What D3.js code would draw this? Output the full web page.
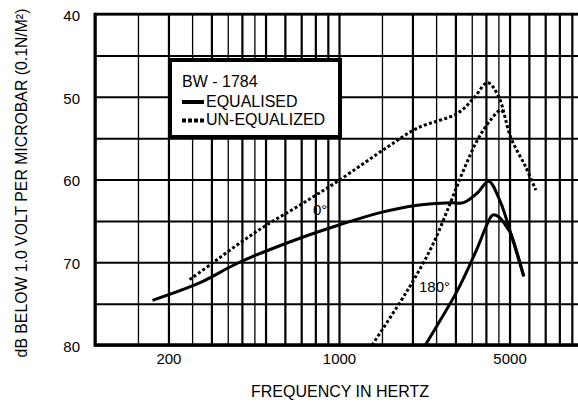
<!DOCTYPE html>
<html>
<head>
<meta charset="utf-8">
<script src="https://cdn.jsdelivr.net/npm/d3@7"></script>
<style>
  body { margin: 0; background: #fff; }
  svg text { font-family: "Liberation Sans", Arial, Helvetica, sans-serif; fill: #000; }
</style>
</head>
<body>
<div id="chart"></div>
<script>
// values
const freqLabels = [200, 1000, 5000];
const dbLabels = [40, 50, 60, 70, 80];
const freqGrid = [100, 150, 200, 250, 300, 350, 400, 450, 500, 600, 700, 800, 900,
    1000, 1500, 2000, 2500, 3000, 3500, 4000, 4500, 5000, 6000, 7000, 8000, 9000, 10000];
const dbGrid = [40, 45, 50, 55, 60, 65, 70, 75, 80];

// equalised, 0 degrees  [Hz, dB]
const eq0 = [[172, 74.6], [268, 72.5], [391, 70.0], [691, 67.1], [1000, 65.5], [1475, 64.0],
    [2094, 63.1], [2863, 62.8], [3237, 62.8], [3698, 61.6], [4105, 60.2], [4598, 62.8],
    [5054, 66.5], [5717, 71.7]];
// equalised, 180 degrees
const eq180 = [[2260, 80.0], [2600, 77.0], [3060, 73.4], [3700, 68.2], [4060, 65.3],
    [4260, 64.3], [4510, 64.5], [4910, 65.9], [5054, 66.5], [5717, 71.7]];
// un-equalized, 0 degrees
const uneq0 = [[244, 72.1], [303, 70.1], [391, 67.7], [505, 65.5], [691, 63.1], [1000, 60.1],
    [1576, 56.1], [2094, 53.8], [3059, 52.0], [3560, 50.2], [4064, 48.3], [4513, 50.0],
    [5054, 54.9], [5826, 58.5], [6409, 61.3]];
// un-equalized, 180 degrees
const uneq180 = [[1367, 80.0], [1782, 74.8], [2055, 71.8], [2438, 67.7], [2863, 62.8],
    [3237, 58.9], [3698, 55.2], [4182, 52.8], [4598, 51.6], [4732, 52.0]];

let width = 578,
    height = 403;

let svg = d3.select("#chart")
    .append("svg")
    .attr("width", width)
    .attr("height", height);

let x = d3.scaleLog()
    .domain([100, 10000])
    .range([95, 583]);

let y = d3.scaleLinear()
    .domain([40, 80])
    .range([14, 345]);

// vertical grid
let vgrid = svg.append("g")
    .attr("transform", "translate(0," + y(80) + ")")
    .call(d3.axisBottom(x).tickValues(freqGrid).tickSize(-(y(80) - y(40))).tickFormat(""));
vgrid.select(".domain").remove();
vgrid.selectAll("line")
    .style("stroke", "#000")
    .style("stroke-width", function (d) {
        let p = Math.pow(10, Math.floor(Math.log10(d)));
        return (d % p === 0) ? 2.2 : 1.3;
    });

// horizontal grid
let hgrid = svg.append("g")
    .attr("transform", "translate(" + x(100) + ",0)")
    .call(d3.axisLeft(y).tickValues(dbGrid).tickSize(-(x(10000) - x(100))).tickFormat(""));
hgrid.select(".domain").remove();
hgrid.selectAll("line")
    .style("stroke", "#000")
    .style("stroke-width", 2);

// frame
svg.append("line")
    .attr("x1", x(100)).attr("x2", x(100))
    .attr("y1", y(40) - 1.3).attr("y2", y(80) + 1.8)
    .style("stroke", "#000").style("stroke-width", 3);
svg.append("line")
    .attr("x1", x(100)).attr("x2", width)
    .attr("y1", y(80)).attr("y2", y(80))
    .style("stroke", "#000").style("stroke-width", 3.5);
svg.append("line")
    .attr("x1", x(100)).attr("x2", width)
    .attr("y1", y(40)).attr("y2", y(40))
    .style("stroke", "#000").style("stroke-width", 2.7);

// tick labels
let xa = svg.append("g")
    .attr("transform", "translate(0," + y(80) + ")")
    .call(d3.axisBottom(x).tickValues(freqLabels).tickSize(0).tickPadding(8).tickFormat(d3.format("d")));
xa.select(".domain").remove();
xa.selectAll("text")
    .attr("y", 19)
    .attr("dy", 0)
    .style("font-size", "15px");

let ya = svg.append("g")
    .attr("transform", "translate(" + x(100) + ",0)")
    .call(d3.axisLeft(y).tickValues(dbLabels).tickSize(0).tickPadding(15));
ya.select(".domain").remove();
ya.selectAll("text")
    .attr("dy", "0.42em")
    .style("font-size", "15px");

// curves
let line = d3.line()
    .curve(d3.curveCatmullRom.alpha(0.5))
    .x(function (d) { return x(d[0]); })
    .y(function (d) { return y(d[1]); });

[eq0, eq180].forEach(function (s) {
    svg.append("path")
        .datum(s)
        .attr("d", line)
        .style("fill", "none")
        .style("stroke", "#000")
        .style("stroke-width", 3);
});

[uneq0, uneq180].forEach(function (s) {
    svg.append("path")
        .datum(s)
        .attr("d", line)
        .style("fill", "none")
        .style("stroke", "#000")
        .style("stroke-width", 3)
        .style("stroke-dasharray", "3,2.3");
});

// angle labels
svg.append("text")
    .attr("x", 313).attr("y", 215)
    .text("0°")
    .style("font-size", "15px");
svg.append("text")
    .attr("x", 419).attr("y", 292)
    .text("180°")
    .style("font-size", "15px");

// legend
let legend = svg.append("g");
legend.append("rect")
    .attr("x", 170).attr("y", 60)
    .attr("width", 170).attr("height", 77)
    .style("fill", "#fff")
    .style("stroke", "#000")
    .style("stroke-width", 4);
legend.append("text")
    .attr("x", 182).attr("y", 87)
    .text("BW - 1784")
    .style("font-size", "16px");
legend.append("line")
    .attr("x1", 182).attr("x2", 204)
    .attr("y1", 102).attr("y2", 102)
    .style("stroke", "#000").style("stroke-width", 4);
legend.append("text")
    .attr("x", 206).attr("y", 107)
    .text("EQUALISED")
    .style("font-size", "16px");
legend.append("line")
    .attr("x1", 182).attr("x2", 204)
    .attr("y1", 120.5).attr("y2", 120.5)
    .style("stroke", "#000").style("stroke-width", 4)
    .style("stroke-dasharray", "4,2");
legend.append("text")
    .attr("x", 206).attr("y", 125)
    .text("UN-EQUALIZED")
    .style("font-size", "16px");

// axis titles
svg.append("text")
    .attr("x", 340).attr("y", 397)
    .text("FREQUENCY IN HERTZ")
    .style("text-anchor", "middle")
    .style("font-size", "16px");

svg.append("text")
    .attr("transform", "translate(27,183) rotate(-90)")
    .text("dB BELOW 1.0 VOLT PER MICROBAR (0.1N/M²)")
    .style("text-anchor", "middle")
    .style("font-size", "15.8px");
</script>
</body>
</html>
